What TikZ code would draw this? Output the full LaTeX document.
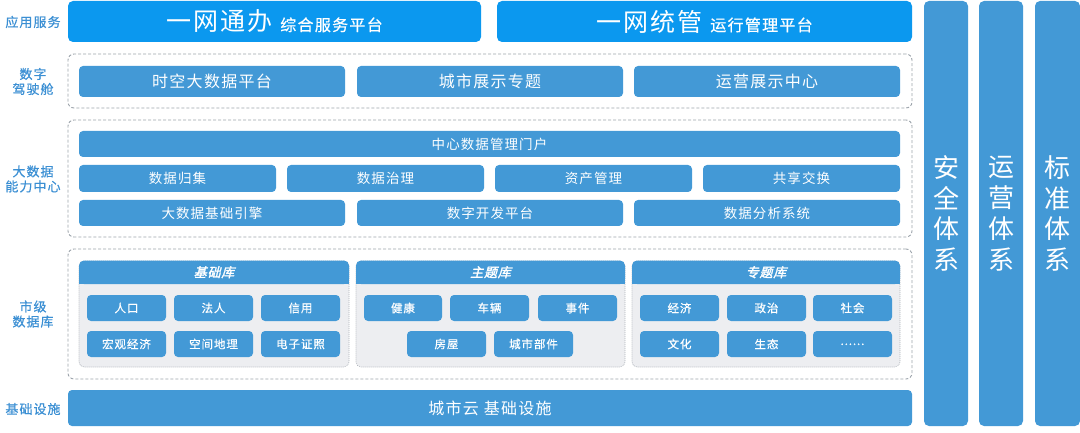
\documentclass[tikz,border=0pt]{standalone}
\usepackage{fontspec}
\setmainfont{Noto Sans CJK SC}[LetterSpace=8]
\newfontfamily\hdrfont{Noto Sans CJK SC}[FakeSlant=0.25,FakeBold=2,LetterSpace=6]
\newfontfamily\medfont{Noto Sans CJK SC}[FakeBold=0.6,LetterSpace=8]
\newfontfamily\plainfont{Noto Sans CJK SC}
\definecolor{topblue}{HTML}{0B98EF}
\definecolor{boxblue}{HTML}{4399D6}
\definecolor{lblblue}{HTML}{3B8FD3}
\definecolor{dashgray}{HTML}{9CA3AB}
\definecolor{panelgray}{HTML}{EDEEF1}
\definecolor{panelborder}{HTML}{B0B5BB}
\tikzset{
  topbar/.style={fill=topblue, rounded corners=5pt, inner sep=0pt, text=white},
  bbox/.style={fill=boxblue, rounded corners=4pt, inner sep=0pt, text=white},
  vbar/.style={fill=boxblue, rounded corners=5pt, inner sep=0pt, text=white, align=center,
    font=\plainfont\fontsize{26}{34}\selectfont},
  framebox/.style={draw=dashgray, dash pattern=on 3pt off 2pt, line width=0.9pt, rounded corners=6pt, inner sep=0pt},
  panel/.style={fill=panelgray, draw=panelborder, dash pattern=on 1pt off 1pt, line width=0.6pt, rounded corners=5pt, inner sep=0pt},
  hdr/.style={fill=boxblue, rounded corners=5pt, inner sep=0pt, text=white, font=\hdrfont\fontsize{13}{13}\selectfont},
  cell/.style={bbox, font=\medfont\fontsize{11.5}{12}\selectfont},
  big/.style={bbox, font=\fontsize{16}{16}\selectfont},
  mid/.style={bbox, font=\fontsize{13.5}{13.5}\selectfont},
  lbl/.style={text=lblblue, align=center, inner sep=0pt, font=\medfont\fontsize{13}{15}\selectfont},
}
\newcommand\rbox[7]{\node[#1, minimum width={(#5-#3)*1pt}, minimum height={(#6-#4)*1pt}] (#2) at ({(#3+#5)/2},{(#4+#6)/2}) {#7};}
\begin{document}
\begin{tikzpicture}[x=1pt,y=-1pt]
\useasboundingbox (0,0) rectangle (1080,433);
% left labels
\node[lbl] (l1) at (33,22) {应用服务};
\node[lbl] (l2) at (33,81.5) {数字\\驾驶舱};
\node[lbl] (l3) at (33,179) {大数据\\能力中心};
\node[lbl] (l4) at (33,314) {市级\\数据库};
\node[lbl] (l5) at (33,409) {基础设施};
% top bars
\rbox{topbar}{t1}{68}{1}{481}{42}{{\fontsize{25}{25}\selectfont 一网通办}\hspace{8pt}{\medfont\fontsize{16}{16}\selectfont 综合服务平台}}
\rbox{topbar}{t2}{497}{1}{912}{42}{{\fontsize{25}{25}\selectfont 一网统管}\hspace{8pt}{\medfont\fontsize{16}{16}\selectfont 运行管理平台}}
% vertical bars
\rbox{vbar}{v1}{924}{1}{968}{426}{\raisebox{-9pt}{\shortstack{安\\[4pt]全\\[4pt]体\\[4pt]系}}}
\rbox{vbar}{v2}{979}{1}{1023}{426}{\raisebox{-9pt}{\shortstack{运\\[4pt]营\\[4pt]体\\[4pt]系}}}
\rbox{vbar}{v3}{1035}{1}{1080}{426}{\raisebox{-9pt}{\shortstack{标\\[4pt]准\\[4pt]体\\[4pt]系}}}
% frame 1
\rbox{framebox}{f1}{68}{54}{912}{108}{}
\rbox{big}{a1}{79}{66}{345}{97}{时空大数据平台}
\rbox{big}{a2}{357}{66}{623}{97}{城市展示专题}
\rbox{big}{a3}{634}{66}{900}{97}{运营展示中心}
% frame 2
\rbox{framebox}{f2}{68}{120}{912}{237}{}
\rbox{mid}{b0}{79}{131}{900}{157}{中心数据管理门户}
\rbox{mid}{b1}{79}{165}{276}{192}{数据归集}
\rbox{mid}{b2}{287}{165}{484}{192}{数据治理}
\rbox{mid}{b3}{495}{165}{692}{192}{资产管理}
\rbox{mid}{b4}{703}{165}{900}{192}{共享交换}
\rbox{mid}{c1}{79}{200}{345}{226}{大数据基础引擎}
\rbox{mid}{c2}{357}{200}{623}{226}{数字开发平台}
\rbox{mid}{c3}{634}{200}{900}{226}{数据分析系统}
% frame 3
\rbox{framebox}{f3}{68}{249}{912}{379}{}
\rbox{panel}{p1}{79}{261}{349}{367}{}
\rbox{panel}{p2}{356}{261}{625}{367}{}
\rbox{panel}{p3}{632}{261}{900}{367}{}
\fill[boxblue] (79,272) rectangle (349,284);
\fill[boxblue] (356,272) rectangle (625,284);
\fill[boxblue] (632,272) rectangle (900,284);
\rbox{hdr}{h1}{79}{260.5}{349}{284}{基础库}
\rbox{hdr}{h2}{356}{260.5}{625}{284}{主题库}
\rbox{hdr}{h3}{632}{260.5}{900}{284}{专题库}
% 基础库 cells
\rbox{cell}{d1}{87}{295}{166}{321}{人口}
\rbox{cell}{d2}{174}{295}{253}{321}{法人}
\rbox{cell}{d3}{261}{295}{340}{321}{信用}
\rbox{cell}{d4}{87}{331}{166}{357}{宏观经济}
\rbox{cell}{d5}{174}{331}{253}{357}{空间地理}
\rbox{cell}{d6}{261}{331}{340}{357}{电子证照}
% 主题库 cells
\rbox{cell}{e1}{364}{295}{442}{321}{健康}
\rbox{cell}{e2}{450}{295}{529}{321}{车辆}
\rbox{cell}{e3}{538}{295}{617}{321}{事件}
\rbox{cell}{e4}{407}{331}{486}{357}{房屋}
\rbox{cell}{e5}{494}{331}{573}{357}{城市部件}
% 专题库 cells
\rbox{cell}{g1}{640}{295}{719}{321}{经济}
\rbox{cell}{g2}{727}{295}{806}{321}{政治}
\rbox{cell}{g3}{813}{295}{892}{321}{社会}
\rbox{cell}{g4}{640}{331}{719}{357}{文化}
\rbox{cell}{g5}{727}{331}{806}{357}{生态}
\rbox{cell}{g6}{813}{331}{892}{357}{\raisebox{-2pt}{......}}
% bottom bar
\rbox{big}{z1}{68}{390}{912}{426}{城市云 基础设施}
\end{tikzpicture}
\end{document}
